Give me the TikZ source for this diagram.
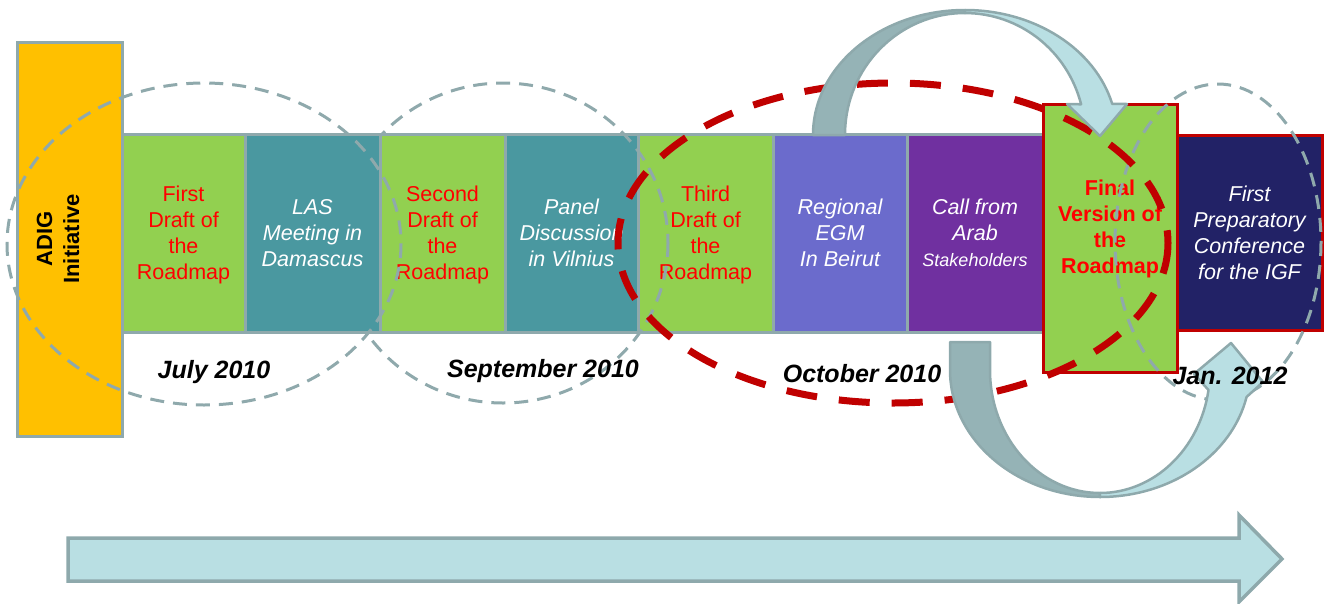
\documentclass[tikz,border=0pt]{standalone}
\usepackage{fontspec}
\setmainfont{Liberation Sans}
\definecolor{grn}{HTML}{92D050}
\definecolor{tealb}{HTML}{4A98A0}
\definecolor{regb}{HTML}{6B6BCC}
\definecolor{purp}{HTML}{7030A0}
\definecolor{navyb}{HTML}{222266}
\definecolor{adigc}{HTML}{FFC000}
\definecolor{bord}{HTML}{8FA9AC}
\definecolor{darkred}{HTML}{C00000}
\definecolor{arrdark}{HTML}{95B3B6}
\definecolor{arrlight}{HTML}{B9DFE3}
\definecolor{arrbord}{HTML}{8EA9AC}
\newcommand\bxfont{\fontsize{21.5}{26}\selectfont}
\newcommand\dtfont{\fontsize{25}{30}\selectfont\bfseries\itshape}
\begin{document}
\begin{tikzpicture}[x=1pt,y=-1pt,
  stripbox/.style={draw=bord,line width=3pt,inner sep=0pt,align=center,minimum height=198pt,text depth=0pt},
  redtxt/.style={text=red,font=\bxfont},
  whitetxt/.style={text=white,font=\bxfont\itshape},
  greydash/.style={draw=bord,line width=3pt,dash pattern=on 14pt off 9pt},
  reddash/.style={draw=darkred,line width=7pt,dash pattern=on 31pt off 22pt},
  curved/.style={draw=arrbord,line width=2.5pt,line join=round},
  datetxt/.style={font=\dtfont,anchor=base,text=black}]
\useasboundingbox (0,0) rectangle (1326,603);

% ADIG box
\node[draw=bord,line width=3pt,fill=adigc,minimum width=105pt,minimum height=394pt,inner sep=0pt] (adig) at (69.5,239) {};
\node[rotate=90,align=center,font=\fontsize{22}{27}\selectfont\bfseries] (adigt) at (58,239) {ADIG\\Initiative};

% strip boxes
\node[stripbox,fill=grn,minimum width=123pt,redtxt] (b1) at (183.5,233) {First\\Draft of\\the\\Roadmap};
\node[stripbox,fill=grn,minimum width=125pt,redtxt] (b3) at (442.5,233) {Second\\Draft of\\the\\Roadmap};
\node[stripbox,fill=tealb,minimum width=133pt,whitetxt] (b4) at (571.5,233) {Panel\\Discussion\\in Vilnius};
\node[stripbox,fill=grn,minimum width=135pt,redtxt] (b5) at (705.5,233) {Third\\Draft of\\the\\Roadmap};
\node[stripbox,fill=regb,minimum width=134pt,whitetxt] (b6) at (840,233) {Regional\\EGM\\In Beirut};
\node[stripbox,fill=purp,minimum width=136pt,whitetxt] (b7) at (975,233) {Call from\\Arab\\{\fontsize{18}{22}\selectfont Stakeholders}};
\node[stripbox,draw=darkred,fill=navyb,minimum width=145pt,minimum height=195pt,whitetxt] (b9) at (1249.5,232.5) {First\\Preparatory\\Conference\\for the IGF};
\node[stripbox,draw=darkred,fill=grn,minimum width=134pt,minimum height=268pt] (b8) at (1110,238) {};
\node[text=red,font=\bxfont\bfseries,align=center,text depth=0pt] (b8t) at (1110,227) {Final\\Version of\\the\\Roadmap};

% second grey ellipse (behind LAS box)
\draw[greydash] (503,243) ellipse [x radius=165, y radius=160];
\node[stripbox,fill=tealb,minimum width=135pt,whitetxt] (b2) at (312.5,233) {LAS\\Meeting in\\Damascus};

% other grey ellipses
\draw[greydash] (204,244) ellipse [x radius=197, y radius=161];
\draw[greydash] (1218,242) ellipse [x radius=103, y radius=158];

% red ellipse
\draw[reddash] (893,243) ellipse [x radius=275, y radius=160];

% top curved arrow
\draw[curved,fill=arrdark] (813,135) arc[start angle=180,end angle=270,x radius=152,y radius=125]
  -- (965,13) arc[start angle=270,end angle=180,x radius=120,y radius=122] -- cycle;
\draw[curved,fill=arrlight] (965,10) arc[start angle=270,end angle=345.6,x radius=152,y radius=125]
  -- (1127,104) -- (1100,136) -- (1067,104) -- (1081.1,104.3)
  arc[start angle=345.4,end angle=270,x radius=120,y radius=122] -- cycle;

% bottom curved arrow
\draw[curved,fill=arrdark] (950,342) -- (950,370) arc[start angle=180,end angle=90,x radius=150,y radius=127]
  -- (1100,493) arc[start angle=90,end angle=180,x radius=110,y radius=123] -- (990,342) -- cycle;
\draw[curved,fill=arrlight] (1100,497) arc[start angle=90,end angle=12.27,x radius=150,y radius=127]
  -- (1263,382) -- (1231,343) -- (1194,374) -- (1208.5,390)
  arc[start angle=9.36,end angle=90,x radius=110,y radius=123] -- cycle;

% dates
\node[datetxt] (d1) at (214,378) {July 2010};
\node[datetxt] (d2) at (543,377) {September 2010};
\node[datetxt] (d3) at (862,382) {October 2010};
\node[datetxt] (d4) at (1230,384) {Jan. 2012};

% bottom timeline arrow
\draw[draw=arrbord,line width=3.5pt,fill=arrlight] (68,538) -- (1239,538) -- (1239,515) -- (1282,559) -- (1239,602) -- (1239,581) -- (68,581) -- cycle;
\end{tikzpicture}
\end{document}
